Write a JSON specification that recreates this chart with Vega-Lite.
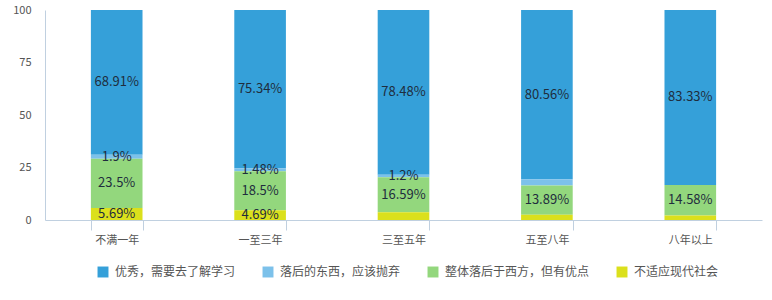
{
  "$schema": "https://vega.github.io/schema/vega-lite/v6.json",
  "width": 717,
  "height": 210,
  "autosize": "none",
  "padding": {"left": 45, "top": 10, "right": 10, "bottom": 80},
  "config": {
    "font": "Noto Sans CJK SC",
    "view": {"stroke": null}
  },
  "data": {
    "values": [
      {"period": "不满一年", "cat": "优秀，需要去了解学习", "k": 4, "value": 68.91, "label": "68.91%"},
      {"period": "不满一年", "cat": "落后的东西，应该抛弃", "k": 3, "value": 1.9, "label": "1.9%"},
      {"period": "不满一年", "cat": "整体落后于西方，但有优点", "k": 2, "value": 23.5, "label": "23.5%"},
      {"period": "不满一年", "cat": "不适应现代社会", "k": 1, "value": 5.69, "label": "5.69%"},
      {"period": "一至三年", "cat": "优秀，需要去了解学习", "k": 4, "value": 75.34, "label": "75.34%"},
      {"period": "一至三年", "cat": "落后的东西，应该抛弃", "k": 3, "value": 1.48, "label": "1.48%"},
      {"period": "一至三年", "cat": "整体落后于西方，但有优点", "k": 2, "value": 18.5, "label": "18.5%"},
      {"period": "一至三年", "cat": "不适应现代社会", "k": 1, "value": 4.69, "label": "4.69%"},
      {"period": "三至五年", "cat": "优秀，需要去了解学习", "k": 4, "value": 78.48, "label": "78.48%"},
      {"period": "三至五年", "cat": "落后的东西，应该抛弃", "k": 3, "value": 1.2, "label": "1.2%"},
      {"period": "三至五年", "cat": "整体落后于西方，但有优点", "k": 2, "value": 16.59, "label": "16.59%"},
      {"period": "三至五年", "cat": "不适应现代社会", "k": 1, "value": 3.73, "label": ""},
      {"period": "五至八年", "cat": "优秀，需要去了解学习", "k": 4, "value": 80.56, "label": "80.56%"},
      {"period": "五至八年", "cat": "落后的东西，应该抛弃", "k": 3, "value": 3.05, "label": ""},
      {"period": "五至八年", "cat": "整体落后于西方，但有优点", "k": 2, "value": 13.89, "label": "13.89%"},
      {"period": "五至八年", "cat": "不适应现代社会", "k": 1, "value": 2.5, "label": ""},
      {"period": "八年以上", "cat": "优秀，需要去了解学习", "k": 4, "value": 83.33, "label": "83.33%"},
      {"period": "八年以上", "cat": "落后的东西，应该抛弃", "k": 3, "value": 0, "label": ""},
      {"period": "八年以上", "cat": "整体落后于西方，但有优点", "k": 2, "value": 14.58, "label": "14.58%"},
      {"period": "八年以上", "cat": "不适应现代社会", "k": 1, "value": 2.09, "label": ""}
    ]
  },
  "encoding": {
    "x": {
      "field": "period", "type": "nominal", "sort": null,
      "scale": {"paddingInner": 0.64, "paddingOuter": 0.32},
      "axis": {
        "title": null, "labelAngle": 0, "labelColor": "#555555", "labelFontSize": 11,
        "domainColor": "#c0d0e0", "tickColor": "#c0d0e0", "tickBand": "extent", "tickSize": 10,
        "labelPadding": 4
      }
    },
    "y": {
      "field": "value", "type": "quantitative", "stack": "zero",
      "scale": {"domain": [0, 100]},
      "axis": {
        "title": null, "values": [0, 25, 50, 75, 100], "grid": false, "ticks": false,
        "domainColor": "#c0d0e0", "labelColor": "#555555", "labelFontSize": 11, "labelPadding": 14
      }
    },
    "order": {"field": "k", "type": "quantitative", "sort": "ascending"}
  },
  "layer": [
    {
      "mark": {"type": "bar"},
      "encoding": {
        "color": {
          "field": "cat", "type": "nominal",
          "scale": {
            "domain": ["优秀，需要去了解学习", "落后的东西，应该抛弃", "整体落后于西方，但有优点", "不适应现代社会"],
            "range": ["#35a0d9", "#7cc1ea", "#93d77d", "#dbe01c"]
          },
          "legend": {
            "title": null, "orient": "none", "legendX": 52, "legendY": 256, "direction": "horizontal",
            "symbolType": "square", "symbolSize": 120, "symbolStrokeWidth": 0, "labelFontSize": 12,
            "labelColor": "#555555", "columnPadding": 26, "labelOffset": 6
          }
        }
      }
    },
    {
      "mark": {"type": "text", "fontSize": 13, "color": "#1f2d3d"},
      "encoding": {
        "y": {"field": "value", "type": "quantitative", "stack": "zero", "bandPosition": 0.5},
        "text": {"field": "label"}
      }
    }
  ]
}
